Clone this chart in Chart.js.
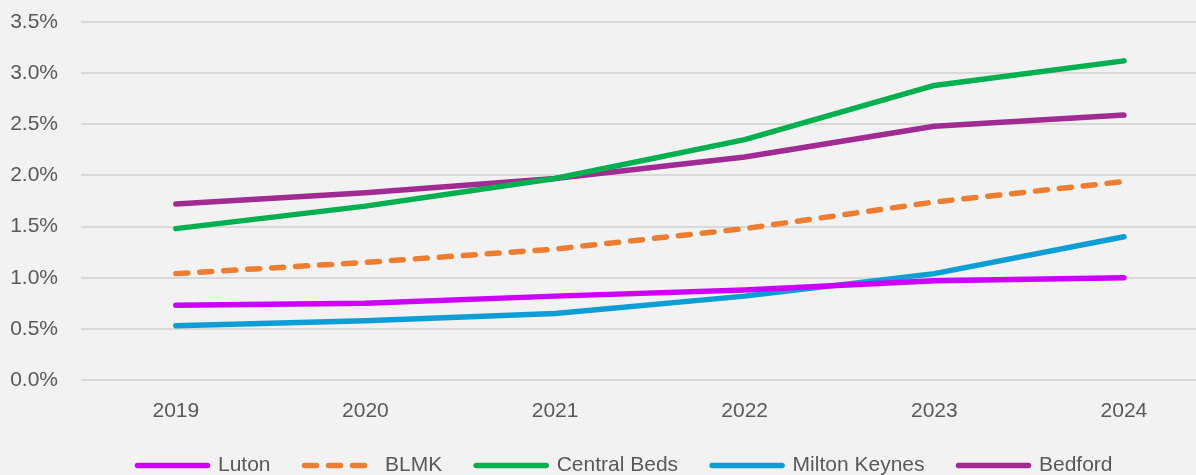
<!DOCTYPE html>
<html lang="en">
<head>
    <meta charset="UTF-8">
    <title>Growth by area</title>
    <script src="https://cdn.jsdelivr.net/npm/chart.js"></script>
    <style>
        html, body { margin: 0; padding: 0; background: #f2f2f2; overflow: hidden; }
        .chart-container { position: relative; width: 1196px; height: 475px; }
    </style>
</head>
<body>
<div class="chart-container">
    <canvas id="lineChart"></canvas>
</div>

<script>
// Data (percent)
const years = [2019, 2020, 2021, 2022, 2023, 2024];
const luton = [0.73, 0.75, 0.82, 0.88, 0.97, 1.00];
const blmk = [1.04, 1.15, 1.28, 1.48, 1.74, 1.94];
const centralBeds = [1.48, 1.70, 1.97, 2.35, 2.88, 3.12];
const miltonKeynes = [0.53, 0.58, 0.65, 0.82, 1.04, 1.40];
const bedford = [1.72, 1.83, 1.97, 2.18, 2.48, 2.59];
const yTicks = [0, 0.5, 1, 1.5, 2, 2.5, 3, 3.5];

function series(label, values, color, dash) {
    return {
        label: label,
        data: years.map((yr, i) => ({ x: yr, y: values[i] })),
        borderColor: color,
        backgroundColor: color,
        borderWidth: 5.5,
        borderCapStyle: 'round',
        borderJoinStyle: 'round',
        borderDash: dash || [],
        pointRadius: 0,
        tension: 0
    };
}

const tickFont = { family: 'Liberation Sans', size: 21 };

// fixed legend height, and nudge it to where it sits in the original
const legendPlacement = {
    id: 'legendPlacement',
    beforeInit(chart) {
        const fit = chart.legend.fit;
        chart.legend.fit = function () {
            fit.call(this);
            this.height = 42;
        };
    },
    afterLayout(chart) {
        chart.legend.top -= 12;
        chart.legend.left += 54;
    }
};

const ctx = document.getElementById('lineChart').getContext('2d');
new Chart(ctx, {
    type: 'line',
    data: {
        datasets: [
            series('Luton', luton, '#cc00ff'),
            series('BLMK', blmk, '#ed7d31', [12, 12]),
            series('Central Beds', centralBeds, '#00b050'),
            series('Milton Keynes', miltonKeynes, '#0e9ed5'),
            series('Bedford', bedford, '#a02b93')
        ]
    },
    plugins: [legendPlacement],
    options: {
        responsive: true,
        maintainAspectRatio: false,
        animation: false,
        layout: { padding: 0 },
        plugins: {
            tooltip: { enabled: false },
            legend: {
                position: 'bottom',
                labels: {
                    usePointStyle: true,
                    pointStyle: 'line',
                    pointStyleWidth: 70,
                    boxWidth: 70,
                    padding: 34,
                    color: '#595959',
                    font: tickFont,
                    // legend samples follow the line style of each dataset
                    generateLabels: chart => chart.data.datasets.map((ds, i) => ({
                        text: ds.label,
                        fillStyle: ds.borderColor,
                        strokeStyle: ds.borderColor,
                        lineWidth: 5.5,
                        lineCap: 'round',
                        lineDash: ds.borderDash,
                        pointStyle: 'line',
                        fontColor: '#595959',
                        hidden: false,
                        datasetIndex: i
                    }))
                }
            }
        },
        scales: {
            x: {
                type: 'linear',
                min: 2018.5,
                max: 2024.38,
                afterBuildTicks: scale => { scale.ticks = years.map(v => ({ value: v })); },
                afterFit: scale => { scale.height = 53; },
                grid: { display: false },
                border: { display: false },
                ticks: {
                    padding: 11,
                    color: '#595959',
                    font: tickFont,
                    callback: v => String(v)
                }
            },
            y: {
                min: 0,
                max: 3.5,
                afterBuildTicks: scale => { scale.ticks = yTicks.map(v => ({ value: v })); },
                afterFit: scale => {
                    scale.width = 81;
                    scale.paddingTop = 22;
                    scale.paddingBottom = 12;
                },
                grid: { color: '#d9d9d9', lineWidth: 2, drawTicks: false },
                border: { display: false },
                ticks: {
                    padding: 23,
                    color: '#595959',
                    font: tickFont,
                    callback: v => v.toFixed(1) + '%'
                }
            }
        }
    }
});
</script>
</body>
</html>
